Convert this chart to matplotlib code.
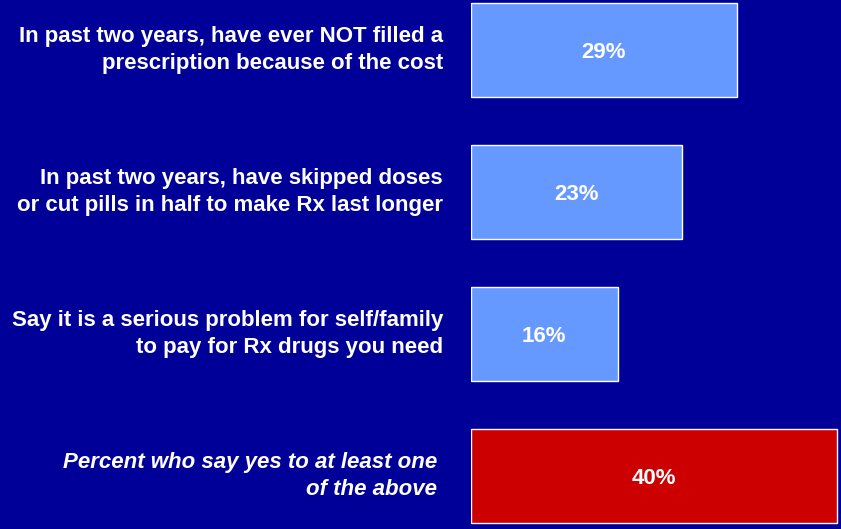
import matplotlib.pyplot as plt

plt.rcParams['font.family'] = ['Liberation Sans', 'DejaVu Sans']

etiquetas = [
    "In past two years, have ever NOT filled a\nprescription because of the cost",
    "In past two years, have skipped doses\nor cut pills in half to make Rx last longer",
    "Say it is a serious problem for self/family\nto pay for Rx drugs you need",
    "Percent who say yes to at least one\nof the above",
]
valores = [29, 23, 16, 40]
colores = ["#6699FF", "#6699FF", "#6699FF", "#CC0000"]
fondo = "#000099"

fig = plt.figure(figsize=(8.41, 5.29), dpi=100, facecolor=fondo)
ax = fig.add_axes([471 / 841, 0, 1 - 471 / 841, 1])
ax.set_facecolor(fondo)

posiciones = list(range(len(valores)))
barras = ax.barh(posiciones, valores, height=94 / 142, color=colores,
                 edgecolor="white", linewidth=1.0, left=0)

for pos, val, texto in zip(posiciones, valores, etiquetas):
    ax.text(val / 2, pos + 0.015, f"{val}%", ha="center", va="center",
            color="white", fontsize=16, fontweight="bold")
    ultimo = pos == len(valores) - 1
    ax.text(-28 / 9.16 if not ultimo else -34 / 9.16, pos, texto,
            ha="right", va="center", color="white", fontsize=16,
            fontweight="bold", fontstyle="italic" if ultimo else "normal",
            linespacing=1.35, clip_on=False)

ax.set_xlim(0, 370 / 9.16)
ax.set_ylim(3.373, -0.352)
ax.axis("off")

fig.savefig("out.png", dpi=100, facecolor=fondo)
